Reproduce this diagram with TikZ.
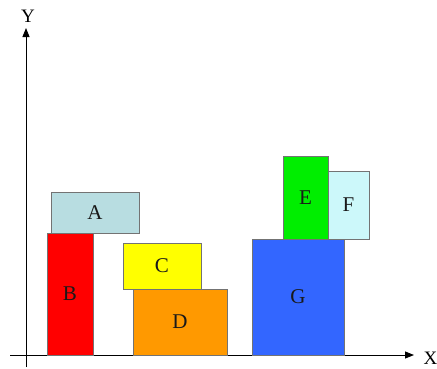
\documentclass[tikz,border=0pt]{standalone}
\usepackage{fontspec}
\setmainfont{Liberation Serif}
\usetikzlibrary{arrows.meta}
\definecolor{cA}{HTML}{B8DDE1}
\definecolor{cB}{HTML}{FF0000}
\definecolor{cC}{HTML}{FFFF00}
\definecolor{cD}{HTML}{FF9900}
\definecolor{cE}{HTML}{00EE00}
\definecolor{cF}{HTML}{CCF8FA}
\definecolor{cG}{HTML}{3366FF}
\tikzset{
  blk/.style={draw=black!55, line width=0.6pt, rectangle, inner sep=0pt,
    font=\fontsize{21}{21}\selectfont, text=black!90},
  axis/.style={line width=0.9pt, -{Triangle[length=9pt,width=7pt]}},
  axlabel/.style={font=\fontsize{19}{19}\selectfont, inner sep=0pt}
}
\begin{document}
\begin{tikzpicture}[x=1pt,y=-1pt]
\useasboundingbox (0,0) rectangle (437,368);
\coordinate (ybot) at (26,367);
\coordinate (ytop) at (26,28);
\coordinate (xl) at (10,355);
\coordinate (xr) at (414,355);
\draw[axis] (ybot) -- (ytop);
\draw[axis] (xl) -- (xr);
\node[axlabel] (Ylab) at (28,16) {Y};
\node[axlabel, anchor=west] (Xlab) at (423.5,358) {X};
\node[blk, fill=cA, minimum width=88pt, minimum height=41pt] (A) at (95,212.5) {A};
\node[blk, fill=cB, minimum width=46pt, minimum height=122pt] (B) at (70,294) {B};
\node[blk, fill=cC, minimum width=78pt, minimum height=46pt] (C) at (162,266) {C};
\node[blk, fill=cD, minimum width=94pt, minimum height=66pt] (D) at (180,322) {D};
\node[blk, fill=cE, minimum width=45pt, minimum height=83pt] (E) at (305.5,197.5) {E};
\node[blk, fill=cF, minimum width=41pt, minimum height=68pt] (F) at (348.5,205) {F};
\node[blk, fill=cG, minimum width=92pt, minimum height=116pt] (G) at (298,297) {G};
\end{tikzpicture}
\end{document}
